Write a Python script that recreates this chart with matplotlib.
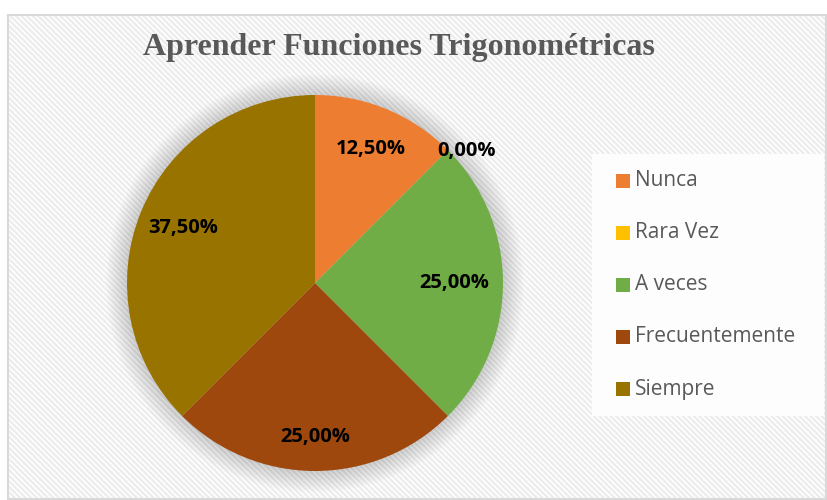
import numpy as np
import matplotlib.pyplot as plt
from matplotlib.patches import Rectangle, Circle

categories = ['Nunca', 'Rara Vez', 'A veces', 'Frecuentemente', 'Siempre']
values = [12.5, 0.0, 25.0, 25.0, 37.5]
colors = ['#ED7D31', '#FFC000', '#70AD47', '#9E480E', '#997300']
title = 'Aprender Funciones Trigonométricas'

W, H = 827, 500
plt.rcParams['hatch.linewidth'] = 1.6
plt.rcParams['hatch.color'] = '#ececec'
fig = plt.figure(figsize=(W / 100, H / 100), dpi=100)

# chart area background: light diagonal stripes + border
bg = fig.add_axes([0, 0, 1, 1])
bg.set_xlim(0, W)
bg.set_ylim(H, 0)
bg.axis('off')
bg.add_patch(Rectangle((8, 15), W - 9, H - 16, facecolor='white',
                       edgecolor='#d9d9d9', lw=1.5, zorder=0))
bg.add_patch(Rectangle((9, 16), W - 11, H - 18, facecolor='none',
                       edgecolor='#ececec', hatch='\\\\\\\\\\\\', lw=0, zorder=1))
# legend box
bg.add_patch(Rectangle((592, 154), 232, 262, facecolor='#fdfdfd',
                       edgecolor='none', zorder=2))

bg.text(399, 47, title, ha='center', va='center', fontsize=23,
        fontweight='bold', family='Liberation Serif', color='#595959', zorder=5)

# pie
cx, cy, r = 315, 283, 188
ax = fig.add_axes([(cx - r) / W, (H - cy - r) / H, 2 * r / W, 2 * r / H])
ax.set_xlim(-1, 1)
ax.set_ylim(-1, 1)
ax.axis('off')

# soft shadow
for k in range(14):
    ax.add_patch(Circle((0, 0), 1 + 0.008 * (14 - k), facecolor='#000000',
                        alpha=0.012, edgecolor='none', zorder=0, clip_on=False))

wedges, _ = ax.pie(values, colors=colors, startangle=90, counterclock=False,
                   radius=1, wedgeprops=dict(linewidth=0))
ax.set_xlim(-1, 1)
ax.set_ylim(-1, 1)

dists = [0.77, 1.07, 0.74, 0.82, 0.76]
shifts = [0, -4, 0, 0, 0]
for w, v, d, s in zip(wedges, values, dists, shifts):
    ang = np.deg2rad((w.theta1 + w.theta2) / 2 + s)
    ax.text(d * np.cos(ang), d * np.sin(ang), f'{v:.2f}%'.replace('.', ','),
            ha='center', va='center', fontsize=14.5, fontweight='bold',
            family='Open Sans', color='black', clip_on=False, zorder=5)

# legend
for i, (c, lab) in enumerate(zip(colors, categories)):
    y = 181 + 52 * i
    bg.add_patch(Rectangle((616, y - 7), 14, 14, facecolor=c, edgecolor='none', zorder=5))
    bg.text(635, y, lab, ha='left', va='center', fontsize=15,
            family='Open Sans', color='#595959', zorder=5)

fig.savefig('out.png', dpi=100)
